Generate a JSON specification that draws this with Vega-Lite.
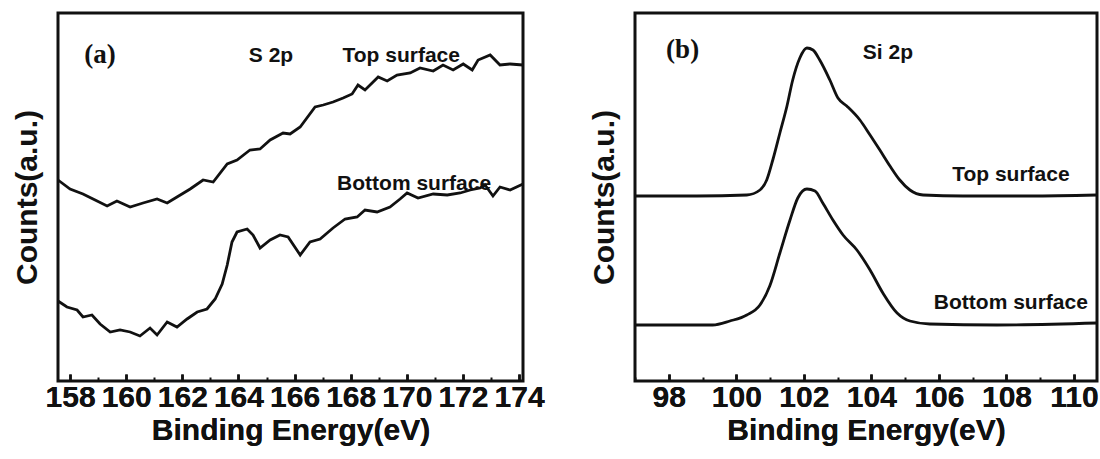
{
  "$schema": "https://vega.github.io/schema/vega-lite/v6.json",
  "background": "white",
  "padding": {"left": 10, "top": 11, "right": 0, "bottom": 0},
  "spacing": 112,
  "bounds": "flush",
  "config": {
    "view": {"stroke": "#111", "strokeWidth": 3},
    "axis": {"grid": false, "domain": false, "labelColor": "#111", "titleColor": "#111", "tickColor": "#111"}
  },
  "datasets": {
    "s2p": [
      {"be": 157.57, "counts": 201, "surface": "Top surface"},
      {"be": 158.0, "counts": 192, "surface": "Top surface"},
      {"be": 158.46, "counts": 187, "surface": "Top surface"},
      {"be": 158.82, "counts": 182, "surface": "Top surface"},
      {"be": 159.32, "counts": 175, "surface": "Top surface"},
      {"be": 159.67, "counts": 180, "surface": "Top surface"},
      {"be": 160.14, "counts": 174, "surface": "Top surface"},
      {"be": 160.6, "counts": 178, "surface": "Top surface"},
      {"be": 161.1, "counts": 182, "surface": "Top surface"},
      {"be": 161.46, "counts": 178, "surface": "Top surface"},
      {"be": 161.81, "counts": 184, "surface": "Top surface"},
      {"be": 162.28, "counts": 192, "surface": "Top surface"},
      {"be": 162.74, "counts": 201, "surface": "Top surface"},
      {"be": 163.1, "counts": 199, "surface": "Top surface"},
      {"be": 163.6, "counts": 217, "surface": "Top surface"},
      {"be": 163.95, "counts": 221, "surface": "Top surface"},
      {"be": 164.41, "counts": 231, "surface": "Top surface"},
      {"be": 164.77, "counts": 232, "surface": "Top surface"},
      {"be": 165.13, "counts": 241, "surface": "Top surface"},
      {"be": 165.59, "counts": 248, "surface": "Top surface"},
      {"be": 165.84, "counts": 247, "surface": "Top surface"},
      {"be": 166.2, "counts": 254, "surface": "Top surface"},
      {"be": 166.73, "counts": 274, "surface": "Top surface"},
      {"be": 167.02, "counts": 276, "surface": "Top surface"},
      {"be": 167.37, "counts": 279, "surface": "Top surface"},
      {"be": 167.73, "counts": 283, "surface": "Top surface"},
      {"be": 168.05, "counts": 287, "surface": "Top surface"},
      {"be": 168.26, "counts": 296, "surface": "Top surface"},
      {"be": 168.51, "counts": 291, "surface": "Top surface"},
      {"be": 168.98, "counts": 304, "surface": "Top surface"},
      {"be": 169.3, "counts": 300, "surface": "Top surface"},
      {"be": 169.65, "counts": 306, "surface": "Top surface"},
      {"be": 170.12, "counts": 308, "surface": "Top surface"},
      {"be": 170.47, "counts": 313, "surface": "Top surface"},
      {"be": 170.94, "counts": 310, "surface": "Top surface"},
      {"be": 171.29, "counts": 316, "surface": "Top surface"},
      {"be": 171.65, "counts": 311, "surface": "Top surface"},
      {"be": 172.01, "counts": 317, "surface": "Top surface"},
      {"be": 172.33, "counts": 311, "surface": "Top surface"},
      {"be": 172.54, "counts": 321, "surface": "Top surface"},
      {"be": 172.97, "counts": 326, "surface": "Top surface"},
      {"be": 173.32, "counts": 316, "surface": "Top surface"},
      {"be": 173.68, "counts": 317, "surface": "Top surface"},
      {"be": 174.14, "counts": 316, "surface": "Top surface"},
      {"be": 157.57, "counts": 80, "surface": "Bottom surface"},
      {"be": 157.89, "counts": 74, "surface": "Bottom surface"},
      {"be": 158.25, "counts": 71, "surface": "Bottom surface"},
      {"be": 158.46, "counts": 64, "surface": "Bottom surface"},
      {"be": 158.78, "counts": 66, "surface": "Bottom surface"},
      {"be": 159.07, "counts": 57, "surface": "Bottom surface"},
      {"be": 159.43, "counts": 49, "surface": "Bottom surface"},
      {"be": 159.78, "counts": 51, "surface": "Bottom surface"},
      {"be": 160.14, "counts": 49, "surface": "Bottom surface"},
      {"be": 160.49, "counts": 45, "surface": "Bottom surface"},
      {"be": 160.85, "counts": 53, "surface": "Bottom surface"},
      {"be": 161.1, "counts": 46, "surface": "Bottom surface"},
      {"be": 161.46, "counts": 59, "surface": "Bottom surface"},
      {"be": 161.81, "counts": 54, "surface": "Bottom surface"},
      {"be": 162.17, "counts": 62, "surface": "Bottom surface"},
      {"be": 162.53, "counts": 69, "surface": "Bottom surface"},
      {"be": 162.88, "counts": 72, "surface": "Bottom surface"},
      {"be": 163.17, "counts": 82, "surface": "Bottom surface"},
      {"be": 163.42, "counts": 97, "surface": "Bottom surface"},
      {"be": 163.6, "counts": 116, "surface": "Bottom surface"},
      {"be": 163.77, "counts": 139, "surface": "Bottom surface"},
      {"be": 163.95, "counts": 149, "surface": "Bottom surface"},
      {"be": 164.31, "counts": 152, "surface": "Bottom surface"},
      {"be": 164.52, "counts": 146, "surface": "Bottom surface"},
      {"be": 164.77, "counts": 133, "surface": "Bottom surface"},
      {"be": 165.13, "counts": 141, "surface": "Bottom surface"},
      {"be": 165.48, "counts": 146, "surface": "Bottom surface"},
      {"be": 165.77, "counts": 144, "surface": "Bottom surface"},
      {"be": 166.2, "counts": 126, "surface": "Bottom surface"},
      {"be": 166.55, "counts": 139, "surface": "Bottom surface"},
      {"be": 166.91, "counts": 142, "surface": "Bottom surface"},
      {"be": 167.37, "counts": 153, "surface": "Bottom surface"},
      {"be": 167.8, "counts": 162, "surface": "Bottom surface"},
      {"be": 168.23, "counts": 164, "surface": "Bottom surface"},
      {"be": 168.51, "counts": 171, "surface": "Bottom surface"},
      {"be": 168.94, "counts": 169, "surface": "Bottom surface"},
      {"be": 169.4, "counts": 174, "surface": "Bottom surface"},
      {"be": 169.76, "counts": 182, "surface": "Bottom surface"},
      {"be": 170.01, "counts": 188, "surface": "Bottom surface"},
      {"be": 170.4, "counts": 183, "surface": "Bottom surface"},
      {"be": 170.94, "counts": 187, "surface": "Bottom surface"},
      {"be": 171.44, "counts": 186, "surface": "Bottom surface"},
      {"be": 171.9, "counts": 188, "surface": "Bottom surface"},
      {"be": 172.26, "counts": 191, "surface": "Bottom surface"},
      {"be": 172.61, "counts": 193, "surface": "Bottom surface"},
      {"be": 172.79, "counts": 196, "surface": "Bottom surface"},
      {"be": 173.07, "counts": 185, "surface": "Bottom surface"},
      {"be": 173.32, "counts": 194, "surface": "Bottom surface"},
      {"be": 173.68, "counts": 191, "surface": "Bottom surface"},
      {"be": 174.14, "counts": 197, "surface": "Bottom surface"}
    ],
    "si2p": [
      {"be": 97.0, "counts": 185, "surface": "Top surface"},
      {"be": 98.83, "counts": 185, "surface": "Top surface"},
      {"be": 100.31, "counts": 186, "surface": "Top surface"},
      {"be": 100.7, "counts": 191, "surface": "Top surface"},
      {"be": 100.9, "counts": 201, "surface": "Top surface"},
      {"be": 101.08, "counts": 221, "surface": "Top surface"},
      {"be": 101.29, "counts": 248, "surface": "Top surface"},
      {"be": 101.5, "counts": 275, "surface": "Top surface"},
      {"be": 101.67, "counts": 301, "surface": "Top surface"},
      {"be": 101.88, "counts": 323, "surface": "Top surface"},
      {"be": 102.09, "counts": 333, "surface": "Top surface"},
      {"be": 102.27, "counts": 331, "surface": "Top surface"},
      {"be": 102.47, "counts": 321, "surface": "Top surface"},
      {"be": 102.77, "counts": 301, "surface": "Top surface"},
      {"be": 103.01, "counts": 283, "surface": "Top surface"},
      {"be": 103.27, "counts": 275, "surface": "Top surface"},
      {"be": 103.66, "counts": 261, "surface": "Top surface"},
      {"be": 103.96, "counts": 246, "surface": "Top surface"},
      {"be": 104.25, "counts": 231, "surface": "Top surface"},
      {"be": 104.55, "counts": 215, "surface": "Top surface"},
      {"be": 104.84, "counts": 201, "surface": "Top surface"},
      {"be": 105.14, "counts": 191, "surface": "Top surface"},
      {"be": 105.53, "counts": 186, "surface": "Top surface"},
      {"be": 106.71, "counts": 185, "surface": "Top surface"},
      {"be": 108.7, "counts": 185, "surface": "Top surface"},
      {"be": 110.68, "counts": 186, "surface": "Top surface"},
      {"be": 97.0, "counts": 56, "surface": "Bottom surface"},
      {"be": 99.3, "counts": 56, "surface": "Bottom surface"},
      {"be": 99.81, "counts": 60, "surface": "Bottom surface"},
      {"be": 100.31, "counts": 66, "surface": "Bottom surface"},
      {"be": 100.7, "counts": 76, "surface": "Bottom surface"},
      {"be": 100.99, "counts": 95, "surface": "Bottom surface"},
      {"be": 101.29, "counts": 128, "surface": "Bottom surface"},
      {"be": 101.59, "counts": 161, "surface": "Bottom surface"},
      {"be": 101.82, "counts": 183, "surface": "Bottom surface"},
      {"be": 102.09, "counts": 192, "surface": "Bottom surface"},
      {"be": 102.33, "counts": 190, "surface": "Bottom surface"},
      {"be": 102.56, "counts": 178, "surface": "Bottom surface"},
      {"be": 102.86, "counts": 161, "surface": "Bottom surface"},
      {"be": 103.16, "counts": 146, "surface": "Bottom surface"},
      {"be": 103.57, "counts": 131, "surface": "Bottom surface"},
      {"be": 103.96, "counts": 111, "surface": "Bottom surface"},
      {"be": 104.34, "counts": 88, "surface": "Bottom surface"},
      {"be": 104.76, "counts": 68, "surface": "Bottom surface"},
      {"be": 105.14, "counts": 60, "surface": "Bottom surface"},
      {"be": 105.73, "counts": 57, "surface": "Bottom surface"},
      {"be": 107.72, "counts": 56, "surface": "Bottom surface"},
      {"be": 110.68, "counts": 58, "surface": "Bottom surface"}
    ],
    "ann_a": [
      {"kind": "serif", "be": 159.07, "counts": 326, "label": "(a)"},
      {"kind": "sans", "be": 165.16, "counts": 325, "label": "S 2p"},
      {"kind": "sans", "be": 169.8, "counts": 325, "label": "Top surface"},
      {"kind": "sans", "be": 170.26, "counts": 197, "label": "Bottom surface"}
    ],
    "ann_b": [
      {"kind": "serif", "be": 98.41, "counts": 331, "label": "(b)"},
      {"kind": "sans", "be": 104.49, "counts": 328, "label": "Si 2p"},
      {"kind": "sans", "be": 108.13, "counts": 206, "label": "Top surface"},
      {"kind": "sans", "be": 108.13, "counts": 78, "label": "Bottom surface"}
    ]
  },
  "hconcat": [
    {
      "width": 465,
      "height": 368,
      "encoding": {
        "x": {"field": "be", "type": "quantitative",
          "scale": {"domain": [157.57, 174.14], "nice": false, "zero": false},
          "axis": {"orient": "bottom", "title": "Binding Energy(eV)", "values": [158, 160, 162, 164, 166, 168, 170, 172, 174],
            "labelFont": "Liberation Sans", "labelFontSize": 30, "labelFontWeight": "bold",
            "titleFont": "Liberation Sans", "titleFontSize": 30, "titleFontWeight": "bold",
            "ticks": true, "tickSize": -7, "tickWidth": 2.5, "labelPadding": 8, "labelOverlap": false, "labelFlush": false, "titlePadding": 3}},
        "y": {"field": "counts", "type": "quantitative",
          "scale": {"domain": [0, 368], "nice": false, "zero": false},
          "axis": {"title": "Counts(a.u.)", "labels": false, "ticks": false,
            "titleFont": "Liberation Sans", "titleFontSize": 30, "titleFontWeight": "bold", "titlePadding": 16}}
      },
      "resolve": {"axis": {"x": "independent"}},
      "layer": [
        {"data": {"name": "s2p"}, "mark": {"type": "line", "color": "#111", "strokeWidth": 2.8, "interpolate": "linear"},
          "encoding": {"detail": {"field": "surface"}}},
        {"data": {"name": "ann_a"}, "transform": [{"filter": "datum.kind === 'sans'"}],
          "mark": {"type": "text", "font": "Liberation Sans", "fontWeight": "bold", "fontSize": 21, "color": "#111", "align": "center", "baseline": "middle"},
          "encoding": {"text": {"field": "label"}}},
        {"data": {"name": "ann_a"}, "transform": [{"filter": "datum.kind === 'serif'"}],
          "mark": {"type": "text", "font": "Liberation Serif", "fontWeight": "bold", "fontSize": 27, "color": "#111", "align": "center", "baseline": "middle"},
          "encoding": {"text": {"field": "label"},
            "x": {"field": "be", "type": "quantitative",
              "axis": {"title": null, "orient": "bottom", "values": [159, 161, 163, 165, 167, 169, 171, 173], "labels": false, "ticks": true, "tickSize": -4, "tickWidth": 2, "domain": false}}}}
      ]
    },
    {
      "width": 462,
      "height": 368,
      "encoding": {
        "x": {"field": "be", "type": "quantitative",
          "scale": {"domain": [97.0, 110.68], "nice": false, "zero": false},
          "axis": {"orient": "bottom", "title": "Binding Energy(eV)", "values": [98, 100, 102, 104, 106, 108, 110],
            "labelFont": "Liberation Sans", "labelFontSize": 30, "labelFontWeight": "bold",
            "titleFont": "Liberation Sans", "titleFontSize": 30, "titleFontWeight": "bold",
            "ticks": true, "tickSize": -7, "tickWidth": 2.5, "labelPadding": 8, "labelOverlap": false, "labelFlush": false, "titlePadding": 3}},
        "y": {"field": "counts", "type": "quantitative",
          "scale": {"domain": [0, 368], "nice": false, "zero": false},
          "axis": {"title": "Counts(a.u.)", "labels": false, "ticks": false,
            "titleFont": "Liberation Sans", "titleFontSize": 30, "titleFontWeight": "bold", "titlePadding": 16}}
      },
      "resolve": {"axis": {"x": "independent"}},
      "layer": [
        {"data": {"name": "si2p"}, "mark": {"type": "line", "color": "#111", "strokeWidth": 2.8, "interpolate": "monotone"},
          "encoding": {"detail": {"field": "surface"}}},
        {"data": {"name": "ann_b"}, "transform": [{"filter": "datum.kind === 'sans'"}],
          "mark": {"type": "text", "font": "Liberation Sans", "fontWeight": "bold", "fontSize": 21, "color": "#111", "align": "center", "baseline": "middle"},
          "encoding": {"text": {"field": "label"}}},
        {"data": {"name": "ann_b"}, "transform": [{"filter": "datum.kind === 'serif'"}],
          "mark": {"type": "text", "font": "Liberation Serif", "fontWeight": "bold", "fontSize": 27, "color": "#111", "align": "center", "baseline": "middle"},
          "encoding": {"text": {"field": "label"},
            "x": {"field": "be", "type": "quantitative",
              "axis": {"title": null, "orient": "bottom", "values": [97, 99, 101, 103, 105, 107, 109], "labels": false, "ticks": true, "tickSize": -4, "tickWidth": 2, "domain": false}}}}
      ]
    }
  ]
}
